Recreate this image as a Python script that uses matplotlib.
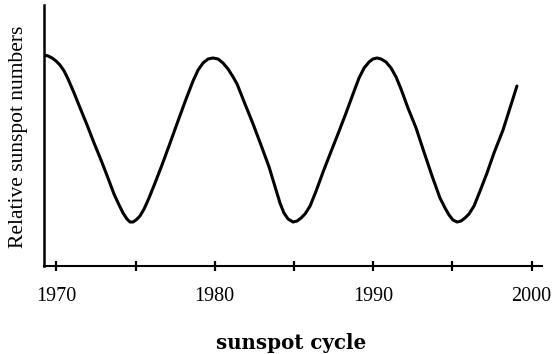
import matplotlib
matplotlib.use('Agg')
import matplotlib.pyplot as plt
from matplotlib.ticker import MultipleLocator

# sunspot curve (year, relative number)
years = [1969.22, 1969.48, 1969.73, 1969.98, 1970.23, 1970.49, 1970.74, 1971.12, 1971.50, 1971.94,
         1972.38, 1972.82, 1973.26, 1973.64, 1973.96, 1974.21, 1974.46, 1974.65, 1974.84, 1975.03,
         1975.28, 1975.54, 1975.85, 1976.23, 1976.67, 1977.18, 1977.68, 1978.19, 1978.63, 1978.95,
         1979.26, 1979.58, 1979.89, 1980.21, 1980.52, 1980.84, 1981.16, 1981.41, 1981.91, 1982.42,
         1982.92, 1983.43, 1983.87, 1984.12, 1984.37, 1984.63, 1984.94, 1985.20, 1985.45, 1985.70,
         1986.02, 1986.40, 1986.84, 1987.28, 1987.78, 1988.29, 1988.73, 1989.11, 1989.43, 1989.74,
         1989.99, 1990.25, 1990.50, 1990.81, 1991.13, 1991.45, 1991.76, 1992.20, 1992.71, 1993.21,
         1993.72, 1994.22, 1994.54, 1994.79, 1995.04, 1995.30, 1995.55, 1995.80, 1996.05, 1996.37,
         1996.75, 1997.19, 1997.63, 1998.20, 1998.64, 1999.08]
sunspots = [211, 210, 208, 205, 201, 195, 187, 173, 158, 141,
            123, 106, 88, 72, 61, 53, 47, 44, 44, 46,
            50, 57, 68, 83, 101, 123, 145, 167, 185, 196,
            203, 207, 208, 207, 203, 197, 189, 182, 162, 142,
            121, 99, 76, 63, 53, 47, 44, 45, 48, 52,
            60, 75, 94, 112, 132, 153, 172, 188, 198, 204,
            207, 208, 207, 204, 198, 189, 177, 158, 138, 114,
            90, 68, 58, 51, 46, 44, 45, 48, 52, 60,
            75, 93, 113, 136, 158, 180]

label_years = [1970, 1980, 1990, 2000]

fig = plt.figure(figsize=(5.54, 3.54), dpi=100)
ax = fig.add_axes([0.0794, 0.2486, 0.8989, 0.7373])

ax.plot(years, sunspots, 'k', lw=2.2, solid_capstyle='round', solid_joinstyle='round')

ax.set_xlim(1969.22, 2000.66)
ax.set_ylim(0, 261)

for side in ['top', 'right']:
    ax.spines[side].set_visible(False)
ax.spines['left'].set_linewidth(1.8)
ax.spines['bottom'].set_linewidth(1.5)
for side in ['left', 'bottom']:
    ax.spines[side].set_capstyle('projecting')

ax.set_yticks([])
ax.set_xticks(label_years)
ax.set_xticklabels([str(y) for y in label_years], family='Liberation Serif', fontsize=14.5)
ax.xaxis.set_minor_locator(MultipleLocator(5))
ax.tick_params(axis='x', which='both', direction='inout', length=6.5, width=1.6, pad=12)

ax.set_ylabel("Relative sunspot numbers", family='Liberation Serif', fontsize=15.5)
ax.yaxis.set_label_coords(-0.032, 0.494)
ax.set_xlabel("sunspot cycle", family='DejaVu Serif', fontweight='bold', fontsize=14.3, va='top')
ax.xaxis.set_label_coords(0.496, -0.258)

fig.savefig('out.png', dpi=100)
